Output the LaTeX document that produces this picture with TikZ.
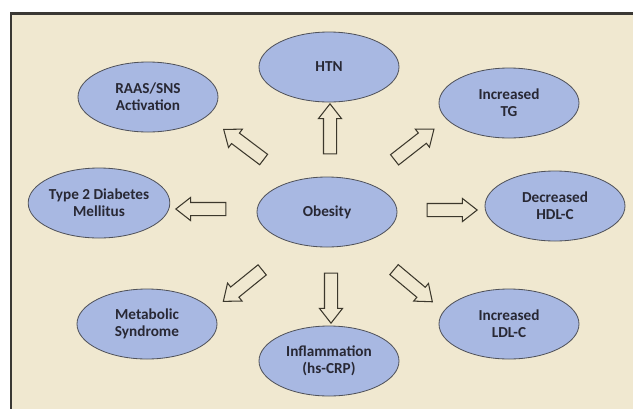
\documentclass[tikz,border=0pt]{standalone}
\usepackage{fontspec}
\setmainfont{Carlito}
\usepackage{tikz}
\usetikzlibrary{shapes}

\definecolor{frameBg}{RGB}{240,232,208}
\definecolor{frameLine}{RGB}{58,56,52}
\definecolor{bubbleFill}{RGB}{168,184,226}
\definecolor{bubbleLine}{RGB}{80,82,90}
\definecolor{arrowLine}{RGB}{60,56,44}
\definecolor{labelText}{RGB}{40,40,52}

\begin{document}
\begin{tikzpicture}
      [x=0.03cm,y=-0.03cm,
       bubble/.style={ellipse,draw=bubbleLine,fill=bubbleFill,line width=0.7pt,
         minimum width=4.2cm,minimum height=2.1cm,inner sep=0pt,align=center,
         font=\bfseries\fontsize{13}{14.5}\selectfont,text=labelText},
       blockArrow/.style={single arrow,draw=arrowLine,fill=frameBg,line width=0.9pt,
         minimum height=1.5cm,minimum width=0.66cm,inner sep=0.18cm,
         single arrow head extend=0.15cm,single arrow tip angle=76}]
      \useasboundingbox (0,0) rectangle (633,408);
      \clip (0,0) rectangle (633,408);
      \fill[white] (0,0) rectangle (633,408);
      \draw[frameLine,line width=2.4pt,fill=frameBg] (11,13.5) rectangle (660,430);

      % outcomes round the centre
      \node[bubble] (obesity) at (327,212) {Obesity};
      \node[bubble] (htn) at (329,67) {HTN};
      \node[bubble] (raas) at (148,97) {RAAS/SNS\\Activation};
      \node[bubble] (incTG) at (509,103) {Increased\\TG};
      \node[bubble] (diabetes) at (99,203) {Type 2 Diabetes\\Mellitus};
      \node[bubble] (decHDL) at (555,206) {Decreased\\HDL-C};
      \node[bubble] (metabolic) at (147,324) {Metabolic\\Syndrome};
      \node[bubble] (inflammation) at (329,361) {Inflammation\\(hs-CRP)};
      \node[bubble] (incLDL) at (509,324) {Increased\\LDL-C};

      % hollow arrows
      \node[blockArrow,rotate=90] (toHTN) at (330,133) {};
      \node[blockArrow,rotate=143] (toRAAS) at (247,147) {};
      \node[blockArrow,rotate=38] (toTG) at (411,147) {};
      \node[blockArrow,rotate=180] (toDiabetes) at (205,209) {};
      \node[blockArrow,rotate=0] (toHDL) at (448,210) {};
      \node[blockArrow,rotate=219] (toMetabolic) at (246,283) {};
      \node[blockArrow,rotate=270] (toInflammation) at (331,294) {};
      \node[blockArrow,rotate=-40] (toLDL) at (410,283) {};
\end{tikzpicture}
\end{document}
